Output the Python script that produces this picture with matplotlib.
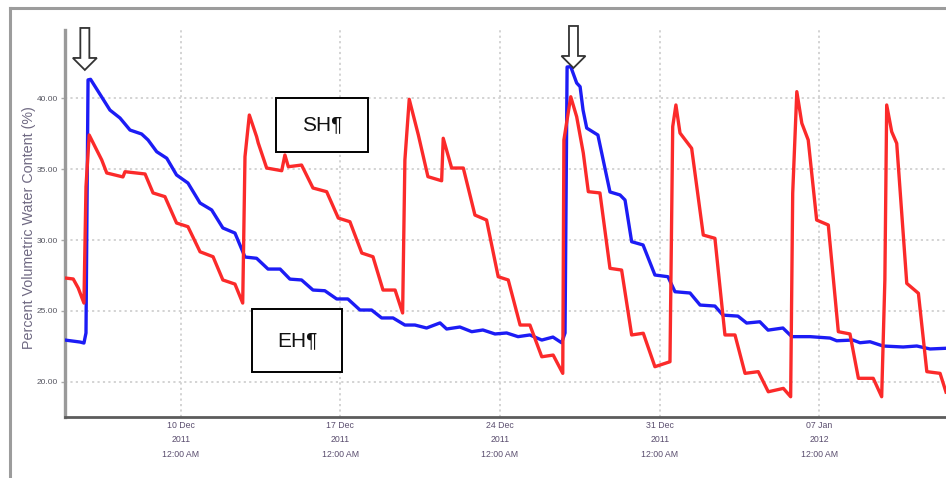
import matplotlib
matplotlib.use('Agg')
import matplotlib.pyplot as plt
import matplotlib.dates as mdates
from matplotlib.patches import Rectangle, Polygon
from matplotlib.lines import Line2D
import numpy as np
import pandas as pd

# ---- data (days relative to 10 Dec 2011 00:00, volumetric water content %) ----
base = pd.Timestamp('2011-12-10')

eh_days = [-5.07, -4.41, -4.24, -4.15, -4.06, -3.95, -3.10, -2.66, -2.22, -1.71, -1.43, -1.05,
           -0.61, -0.18, 0.32, 0.85, 1.36, 1.85, 2.38, 2.82, 3.33, 3.83, 4.36, 4.79, 5.30,
           5.80, 6.32, 6.84, 7.33, 7.86, 8.37, 8.81, 9.31, 9.83, 10.27, 10.78, 11.37, 11.66,
           12.24, 12.76, 13.25, 13.78, 14.29, 14.79, 15.31, 15.83, 16.32, 16.70, 16.85, 16.94,
           17.10, 17.36, 17.51, 17.64, 17.80, 18.29, 18.82, 19.26, 19.48, 19.77, 20.27, 20.79,
           21.36, 21.67, 22.33, 22.77, 23.42, 23.77, 24.43, 24.81, 25.39, 25.75, 26.40, 26.79,
           27.59, 28.47, 28.76, 29.47, 29.78, 30.22, 30.79, 31.67, 32.27, 32.85, 33.55]
eh_vals = [22.94, 22.80, 22.73, 23.44, 41.30, 41.34, 39.17, 38.61, 37.76, 37.48, 37.06, 36.23,
           35.77, 34.59, 34.02, 32.61, 32.12, 30.85, 30.49, 28.80, 28.71, 27.95, 27.95, 27.24,
           27.18, 26.47, 26.42, 25.84, 25.84, 25.06, 25.06, 24.50, 24.50, 24.00, 24.00, 23.79,
           24.15, 23.72, 23.86, 23.53, 23.65, 23.37, 23.44, 23.18, 23.30, 22.94, 23.15, 22.75,
           23.44, 42.21, 42.23, 41.08, 40.82, 39.17, 37.90, 37.41, 33.39, 33.18, 32.82, 29.88,
           29.65, 27.53, 27.41, 26.35, 26.26, 25.41, 25.34, 24.70, 24.63, 24.14, 24.23, 23.64,
           23.79, 23.18, 23.18, 23.08, 22.89, 22.94, 22.75, 22.82, 22.52, 22.45, 22.52, 22.31,
           22.36]

sh_days = [-5.07, -4.71, -4.49, -4.24, -4.15, -4.01, -3.68, -3.46, -3.24, -2.53, -2.44, -1.56,
           -1.21, -0.69, -0.18, 0.32, 0.85, 1.42, 1.85, 2.38, 2.72, 2.82, 3.01, 3.33, 3.40,
           3.77, 4.43, 4.57, 4.72, 5.30, 5.80, 6.40, 6.91, 7.42, 7.94, 8.43, 8.87, 9.40, 9.73,
           9.83, 10.02, 10.42, 10.84, 11.44, 11.51, 11.88, 12.39, 12.90, 13.41, 13.92, 14.36,
           14.88, 15.31, 15.83, 16.33, 16.75, 16.80, 17.10, 17.36, 17.65, 17.87, 18.38, 18.82,
           19.33, 19.77, 20.28, 20.79, 21.45, 21.57, 21.71, 21.89, 22.40, 22.91, 23.42, 23.86,
           24.30, 24.74, 25.32, 25.76, 26.42, 26.74, 26.83, 27.01, 27.23, 27.51, 27.88, 28.39,
           28.83, 29.34, 29.71, 30.36, 30.73, 30.87, 30.95, 31.17, 31.39, 31.83, 32.34, 32.71,
           33.29, 33.55]
sh_vals = [27.32, 27.25, 26.61, 25.55, 33.76, 37.41, 36.35, 35.65, 34.73, 34.45, 34.82, 34.66,
           33.32, 33.06, 31.20, 30.94, 29.17, 28.82, 27.18, 26.89, 25.55, 35.88, 38.82, 37.29,
           36.85, 35.08, 34.89, 36.00, 35.17, 35.29, 33.67, 33.41, 31.55, 31.29, 29.08, 28.82,
           26.47, 26.47, 24.85, 35.65, 39.93, 37.41, 34.47, 34.18, 37.18, 35.08, 35.08, 31.76,
           31.41, 27.41, 27.18, 24.00, 24.00, 21.76, 21.88, 20.59, 37.06, 40.11, 38.70, 36.14,
           33.41, 33.32, 28.00, 27.88, 23.30, 23.42, 21.06, 21.41, 38.00, 39.53, 37.55, 36.47,
           30.35, 30.12, 23.30, 23.30, 20.59, 20.71, 19.29, 19.53, 18.94, 33.30, 40.47, 38.24,
           37.06, 31.41, 31.06, 23.53, 23.37, 20.24, 20.24, 18.94, 27.18, 39.53, 37.64, 36.82,
           26.94, 26.24, 20.71, 20.59, 19.27]

tick_dates = ['2011-12-10', '2011-12-17', '2011-12-24', '2011-12-31', '2012-01-07']
tick_labels = ['10 Dec\n2011\n12:00 AM', '17 Dec\n2011\n12:00 AM', '24 Dec\n2011\n12:00 AM',
               '31 Dec\n2011\n12:00 AM', '07 Jan\n2012\n12:00 AM']
y_ticks = [20, 25, 30, 35, 40]
y_tick_labels = ['20.00', '25.00', '30.00', '35.00', '40.00']
x_range_days = [-5.07, 33.55]
y_range = [17.51, 44.82]

# annotations: hollow arrows (centre day, tip value)
arrow_marks = [(-4.20, 42.0), (17.22, 42.14)]

def to_dt(days):
    return base + pd.to_timedelta(np.asarray(days, dtype=float), unit='D')

W, H = 946, 478
fig = plt.figure(figsize=(W / 100, H / 100), dpi=100)
fig.patch.set_facecolor('white')

ax = fig.add_axes([65 / W, (H - 417) / H, 1 - 65 / W, (417 - 30) / H])
ax.set_facecolor('white')

ax.plot(to_dt(eh_days), eh_vals, color='#1c1cf5', lw=2.4, solid_joinstyle='round', zorder=3)
ax.plot(to_dt(sh_days), sh_vals, color='#fb2a2a', lw=2.4, solid_joinstyle='round', zorder=4)

ax.set_xlim(to_dt(x_range_days)[0], to_dt(x_range_days)[1])
ax.set_ylim(*y_range)

ax.set_xticks(pd.to_datetime(tick_dates))
ax.set_xticklabels(tick_labels, fontsize=6.3, color='#5a4d6e', family='Liberation Sans',
                   linespacing=1.75)
ax.set_yticks(y_ticks)
ax.set_yticklabels(y_tick_labels, fontsize=6, color='#555560', family='Liberation Sans')
ax.tick_params(axis='x', length=0, pad=3)
ax.tick_params(axis='y', length=3, width=1, color='#aaaaaa', pad=2)

ax.grid(True, color='#d0d0d0', linestyle=(0, (1.2, 1.8)), linewidth=1.3, zorder=0)
ax.set_axisbelow(True)

for s in ['top', 'right']:
    ax.spines[s].set_visible(False)
ax.spines['left'].set_color('#9a9a9a')
ax.spines['left'].set_linewidth(2.4)
ax.spines['bottom'].set_color('#5c5c5c')
ax.spines['bottom'].set_linewidth(2)

ax.set_ylabel('Percent Volumetric Water Content (%)', fontsize=10.3, color='#6f6982',
              family='Liberation Sans')
ax.yaxis.set_label_coords(-29 / 881, (417 - 228) / 387)

# hollow down arrows
ppx_x = 1 / 22.81   # days per pixel
ppx_y = 1 / 14.17   # value units per pixel
for cx, tip in arrow_marks:
    c = mdates.date2num(to_dt([cx])[0])
    hw, sw, hl, total = 12 * ppx_x, 4.5 * ppx_x, 12 * ppx_y, 42 * ppx_y
    pts = [(c - sw, tip + total), (c + sw, tip + total), (c + sw, tip + hl), (c + hw, tip + hl),
           (c, tip), (c - hw, tip + hl), (c - sw, tip + hl)]
    ax.add_patch(Polygon(pts, closed=True, facecolor='white', edgecolor='#333333',
                         lw=1.3, clip_on=False, zorder=6))

# text boxes
boxes = [('SH¶', 276, 98, 92, 54), ('EH¶', 252, 309, 90, 63)]
for label, bx, by, bw, bh in boxes:
    fig.patches.append(Rectangle((bx / W, 1 - (by + bh) / H), bw / W, bh / H,
                                 transform=fig.transFigure, facecolor='white',
                                 edgecolor='black', lw=1.4, zorder=10))
    fig.text((bx + bw / 2) / W, 1 - (by + bh / 2) / H, label, ha='center', va='center',
             fontsize=15, family='Liberation Sans', color='#111111', zorder=11)

# outer frame of the original screenshot
fig.add_artist(Line2D([10 / W, 10 / W], [0, 1 - 8 / H], color='#9c9c9c', lw=2.2,
                      transform=fig.transFigure))
fig.add_artist(Line2D([10 / W, 1], [1 - 8 / H, 1 - 8 / H], color='#9c9c9c', lw=2.2,
                      transform=fig.transFigure))

fig.savefig('out.png', dpi=100, facecolor='white')
